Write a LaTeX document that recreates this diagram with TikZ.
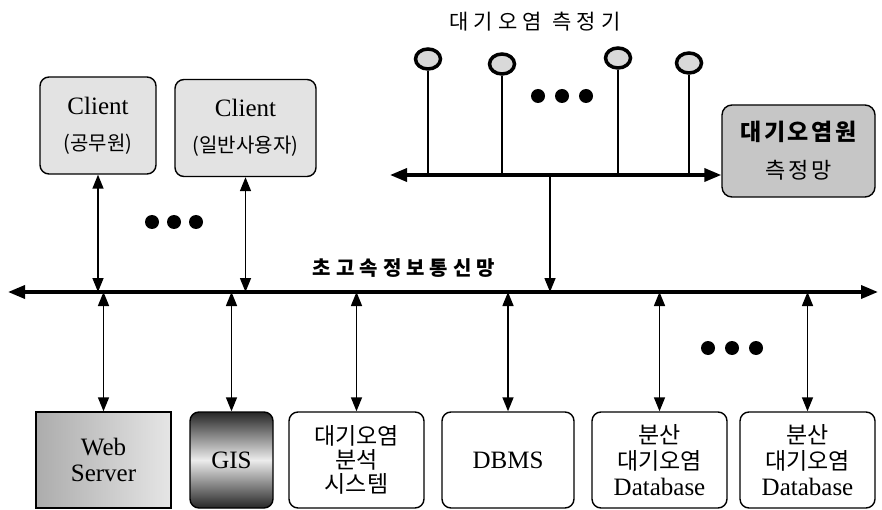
\documentclass[tikz,border=0pt]{standalone}
\usepackage{fontspec}
\setmainfont{Liberation Serif}
\newfontfamily\kr{Noto Sans CJK KR}
\newfontfamily\krwide[LetterSpace=12]{Noto Sans CJK KR}
\newfontfamily\krwider[LetterSpace=25]{Noto Sans CJK KR}
\usetikzlibrary{arrows.meta,shapes.geometric}

\begin{document}
\begin{tikzpicture}
[
    x=1pt, y=-1pt,
    every node/.style={inner sep=0pt, align=center, font=\fontsize{25}{26}\selectfont},
    box/.style={draw, line width=1.4pt, rounded corners=9pt, minimum height=96pt},
    client/.style={box, fill=gray!22, minimum height=97pt},
    sensor/.style={draw, ellipse, line width=3.5pt, fill=gray!30, minimum width=25pt, minimum height=20pt},
    tip/.tip={Triangle[length=14pt,width=11pt]},
    bigtip/.tip={Triangle[length=17pt,width=13pt]},
    link/.style={line width=1.5pt, tip-tip},
    bus/.style={line width=3.5pt, bigtip-bigtip},
]
\useasboundingbox (0,0) rectangle (882,510);

\coordinate (busL) at (8,292);
\coordinate (busR) at (878,292);
\coordinate (upL) at (390,175);
\coordinate (tap) at (550,175);

\node[client, minimum width=116pt] (gov) at (98,125.5)
    {Client\\[10pt]{\kr\fontsize{20}{22}\selectfont (공무원)}};
\node[client, minimum width=141pt] (user) at (245.5,128)
    {Client\\[10pt]{\kr\fontsize{20}{22}\selectfont (일반사용자)}};

\node[box, rounded corners=10pt, fill=gray!45, minimum width=153pt, minimum height=92pt] (msnet) at (798.5,151)
    {{\krwide\bfseries\fontsize{23}{24}\selectfont 대기오염원}\\[12pt]{\krwide\fontsize{22}{24}\selectfont 측정망}};

\node[sensor] (s1) at (428,59) {};
\node[sensor] (s2) at (502,64) {};
\node[sensor] (s3) at (618,58) {};
\node[sensor] (s4) at (689,63) {};
\node[font=\krwider\fontsize{21}{22}\selectfont] (sname) at (535,22) {대기오염 측정기};
\node[font=\krwider\bfseries\fontsize{20}{22}\selectfont] (bname) at (404,268) {초고속정보통신망};

\node[draw, line width=1.4pt, left color=gray!65, right color=gray!20, minimum width=135pt, minimum height=96pt] (web) at (103.5,460)
    {Web\\Server};
\node[box, top color=black!85, bottom color=black!85, middle color=gray!15, minimum width=83pt] (gis) at (231.5,460) {GIS};
\node[box, minimum width=135pt, font=\kr\fontsize{23}{24}\selectfont] (ana) at (356.5,460) {대기오염\\분석\\시스템};
\node[box, minimum width=132pt] (dbms) at (508,460) {DBMS};
\node[box, minimum width=135pt] (db1) at (659.5,460)
    {{\kr\fontsize{23}{24}\selectfont 분산}\\{\kr\fontsize{23}{24}\selectfont 대기오염}\\Database};
\node[box, minimum width=135pt] (db2) at (807.5,460)
    {{\kr\fontsize{23}{24}\selectfont 분산}\\{\kr\fontsize{23}{24}\selectfont 대기오염}\\Database};

\draw[bus] (busL) -- (busR);
\draw[bus] (upL) -- (upL -| msnet.west);
\draw[line width=1.5pt, -tip] (tap) -- (tap |- busL);

\foreach \s in {s1,s2,s3,s4}
    \draw[line width=1.5pt] (\s.south) -- (\s |- upL);

\foreach \c in {gov,user}
    \draw[link] (\c.south) -- (\c.south |- busL);

\foreach \b in {web,gis,ana,dbms,db1,db2}
    \draw[link] (\b.north |- busL) -- (\b.north);

\foreach \x in {152,174,196} \fill (\x,222) circle (7);
\foreach \x in {538,562,586} \fill (\x,96) circle (7);
\foreach \x in {708,732,756} \fill (\x,348) circle (7);
\end{tikzpicture}
\end{document}
